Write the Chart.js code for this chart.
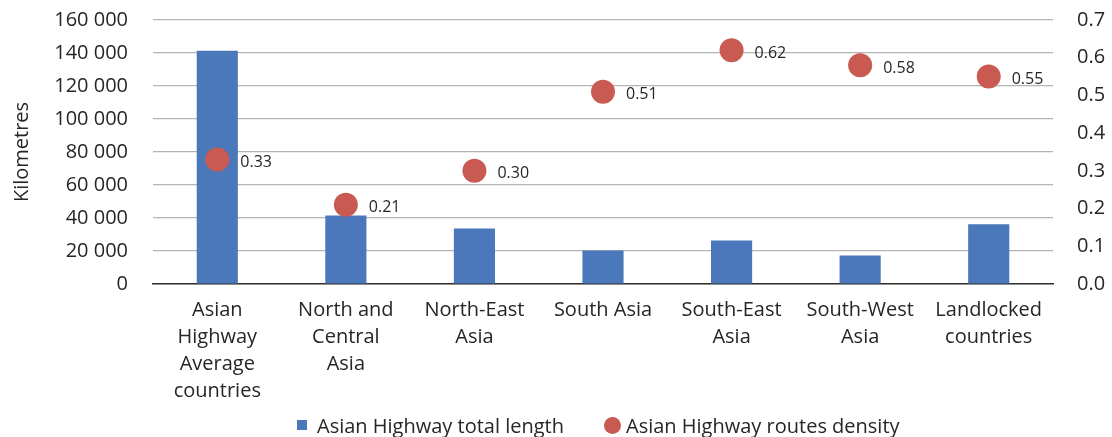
<!DOCTYPE html>
<html>
<head>
<meta charset="utf-8">
<script src="https://cdn.jsdelivr.net/npm/chart.js@4"></script>
<style>
  body { margin: 0; background: #fff; font-family: "Open Sans", sans-serif; }
  #wrap { position: relative; width: 1112px; height: 437px; }
  #legend {
    position: absolute; left: 297px; top: 411px; height: 28px;
    display: flex; align-items: center; font-size: 20px; color: #262626;
  }
  #legend .item { display: flex; align-items: center; }
  #legend .sq { width: 10px; height: 10px; background: #4a78bb; margin-right: 10px; }
  #legend .dot { width: 17px; height: 17px; border-radius: 50%; background: #c95a51; margin: 0 5px 0 40px; }
</style>
</head>
<body>
<div id="wrap">
  <canvas id="chart" width="1112" height="437"></canvas>
  <div id="legend"></div>
</div>
<script>
const categories = [
  ['Asian', 'Highway', 'Average', 'countries'],
  ['North and', 'Central', 'Asia'],
  ['North-East', 'Asia'],
  'South Asia',
  ['South-East', 'Asia'],
  ['South-West', 'Asia'],
  ['Landlocked', 'countries'],
];
const totalLength = [141400, 41500, 33600, 20300, 26400, 17200, 36200];
const routeDensity = [0.33, 0.21, 0.30, 0.51, 0.62, 0.58, 0.55];

const seriesNames = ['Asian Highway total length', 'Asian Highway routes density'];
const barColor = '#4a78bb';
const dotColor = '#c95a51';
const textColor = '#262626';
const font = 'Open Sans';

// value labels to the right of each density point
const densityLabels = {
  id: 'densityLabels',
  afterDatasetsDraw(chart) {
    const meta = chart.getDatasetMeta(1);
    const ctx = chart.ctx;
    ctx.save();
    ctx.font = `16px "${font}"`;
    ctx.fillStyle = textColor;
    ctx.textAlign = 'left';
    ctx.textBaseline = 'middle';
    meta.data.forEach((pt, i) => {
      ctx.fillText(routeDensity[i].toFixed(2), pt.x + 23, pt.y + 3);
    });
    ctx.restore();
  },
};

const fmtThousands = v => Math.round(v).toLocaleString('en-US').replace(/,/g, ' ');

// fixed axis boxes so the plot area lands where we want it
const fixAxis = size => scale => {
  scale.paddingTop = scale.paddingBottom = 0;
  scale.paddingLeft = scale.paddingRight = 0;
  if (scale.isHorizontal()) scale.height = size;
  else scale.width = size;
};

new Chart(document.getElementById('chart'), {
  data: {
    labels: categories,
    datasets: [
      {
        type: 'bar',
        label: seriesNames[0],
        data: totalLength,
        backgroundColor: barColor,
        categoryPercentage: 1,
        barPercentage: 0.32,
        yAxisID: 'y',
        order: 2,
      },
      {
        type: 'line',
        label: seriesNames[1],
        data: routeDensity,
        showLine: false,
        pointRadius: 12,
        pointHoverRadius: 12,
        pointBackgroundColor: dotColor,
        pointBorderWidth: 0,
        clip: false,
        yAxisID: 'y1',
        order: 1,
      },
    ],
  },
  options: {
    responsive: false,
    animation: false,
    layout: { autoPadding: false, padding: { top: 20, right: 6, bottom: 32, left: 10 } },
    plugins: {
      legend: { display: false },
      tooltip: { enabled: false },
    },
    scales: {
      x: {
        grid: { display: false, drawTicks: false },
        border: { color: '#303030', width: 1.5 },
        ticks: {
          color: textColor, padding: 13, maxRotation: 0, autoSkip: false,
          font: { family: font, size: 20, lineHeight: 1.35 },
        },
        afterFit: fixAxis(121),
      },
      y: {
        position: 'left',
        min: 0, max: 160000,
        grid: { color: '#b4b4b4', lineWidth: 1.2, drawTicks: false },
        border: { display: false },
        ticks: {
          stepSize: 20000, padding: 25, color: textColor,
          font: { family: font, size: 20 },
          callback: fmtThousands,
        },
        title: {
          display: true, text: 'Kilometres', color: textColor,
          font: { family: font, size: 20 },
          padding: { top: 0, bottom: 10 },
        },
        afterFit: fixAxis(143),
      },
      y1: {
        position: 'right',
        min: 0, max: 0.7,
        grid: { drawOnChartArea: false, drawTicks: false },
        border: { display: false },
        ticks: {
          stepSize: 0.1, padding: 24, color: textColor,
          font: { family: font, size: 20 },
          callback: v => v.toFixed(1),
        },
        afterFit: fixAxis(53),
      },
    },
  },
  plugins: [densityLabels],
});

// legend under the axis labels
const legend = document.getElementById('legend');
legend.innerHTML =
  `<div class="item"><span class="sq"></span>${seriesNames[0]}</div>` +
  `<div class="item"><span class="dot"></span>${seriesNames[1]}</div>`;
</script>
</body>
</html>
